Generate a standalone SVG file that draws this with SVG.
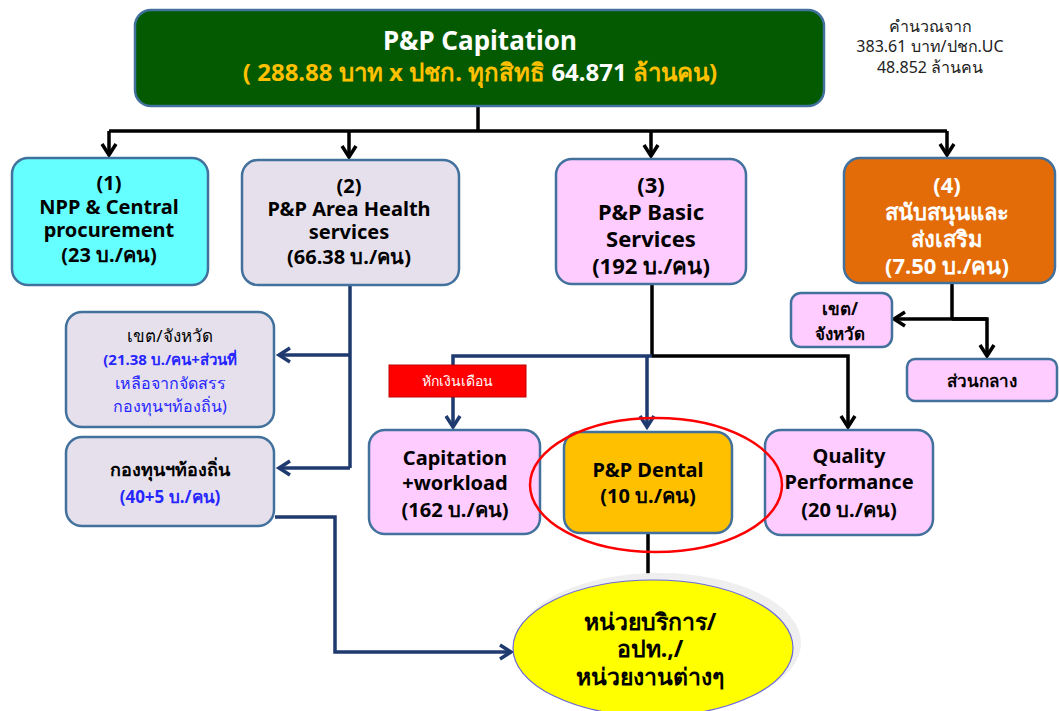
<svg xmlns="http://www.w3.org/2000/svg" width="1059" height="711" viewBox="0 0 1059 711">
<defs>
<style>
text{font-family:"Noto Sans","DejaVu Sans",sans-serif;text-anchor:middle}
.b{font-weight:bold}
.box{stroke:#41719c;stroke-width:2.5}
.k{stroke:#000;stroke-width:3.5;fill:none}
.n{stroke:#1f3a6e;stroke-width:3.5;fill:none}
.t22{font-size:20px;font-weight:bold;fill:#000}
.blue{fill:#2626ff}
</style>
<marker id="ak" markerUnits="userSpaceOnUse" markerWidth="18" markerHeight="18" refX="13" refY="8" orient="auto" overflow="visible">
<path d="M2,1 L13,8 L2,15" fill="none" stroke="#000" stroke-width="3.5"/>
</marker>
<marker id="an" markerUnits="userSpaceOnUse" markerWidth="18" markerHeight="18" refX="13" refY="8" orient="auto" overflow="visible">
<path d="M2,1 L13,8 L2,15" fill="none" stroke="#1f3a6e" stroke-width="3.5"/>
</marker>
</defs>
<rect width="1059" height="711" fill="#fff"/>

<g id="connectors">
<polyline class="k" points="478,106 478,131"/>
<polyline class="k" points="109,131 947,131"/>
<line class="k" x1="109" y1="131" x2="109" y2="155" marker-end="url(#ak)"/>
<line class="k" x1="349" y1="131" x2="349" y2="157" marker-end="url(#ak)"/>
<line class="k" x1="651" y1="131" x2="651" y2="156" marker-end="url(#ak)"/>
<line class="k" x1="947" y1="131" x2="947" y2="155" marker-end="url(#ak)"/>
<polyline class="n" points="350,285 350,468"/>
<line class="n" x1="350" y1="355" x2="279" y2="355" marker-end="url(#an)"/>
<line class="n" x1="350" y1="468" x2="279" y2="468" marker-end="url(#an)"/>
<polyline class="n" points="275,517 335,517 335,652 511,652" marker-end="url(#an)"/>
<polyline class="k" points="652,284 652,356"/>
<polyline class="k" points="652,356 848,356 848,427" marker-end="url(#ak)"/>
<polyline class="n" points="652,356 453,356 453,427" marker-end="url(#an)"/>
<line class="n" x1="647" y1="356" x2="647" y2="427" marker-end="url(#an)"/>
<polyline class="k" points="952,283 952,319"/>
<line class="k" x1="987" y1="319" x2="894" y2="319" marker-end="url(#ak)"/>
<polyline class="k" points="952,319 987,319 987,356" marker-end="url(#ak)"/>
<line class="k" x1="648" y1="533" x2="648" y2="583"/>
</g>

<g id="top">
<rect x="135" y="10" width="689" height="96" rx="16" fill="#035a00" class="box"/>
<text x="480" y="50" class="b" font-size="26" fill="#fff">P&amp;P Capitation</text>
<text x="480" y="81" class="b" font-size="24" fill="#ffc000">( 288.88 บาท x ปชก. ทุกสิทธิ <tspan fill="#fff">64.871</tspan> ล้านคน)</text>
</g>

<g id="note">
<text x="930" y="32" font-size="16" fill="#222">คำนวณจาก</text>
<text x="930" y="52" font-size="16" fill="#222">383.61 บาท/ปชก.UC</text>
<text x="930" y="73" font-size="16" fill="#222">48.852 ล้านคน</text>
</g>

<g id="n1">
<rect x="12" y="158" width="196" height="127" rx="16" fill="#66ffff" class="box"/>
<text x="109" y="190" class="t22">(1)</text>
<text x="109" y="214" class="t22">NPP &amp; Central</text>
<text x="109" y="237" class="t22">procurement</text>
<text x="109" y="262" class="t22">(23 บ./คน)</text>
</g>

<g id="n2">
<rect x="242" y="160" width="217" height="125" rx="16" fill="#e6e0ec" class="box"/>
<text x="349" y="193" class="t22">(2)</text>
<text x="349" y="216" class="t22">P&amp;P Area Health</text>
<text x="349" y="239" class="t22">services</text>
<text x="349" y="264" class="t22">(66.38 บ./คน)</text>
</g>

<g id="n3">
<rect x="556" y="159" width="190" height="125" rx="16" fill="#ffccff" class="box"/>
<text x="651" y="193" class="b" font-size="22">(3)</text>
<text x="651" y="220" class="b" font-size="22">P&amp;P Basic</text>
<text x="651" y="247" class="b" font-size="22">Services</text>
<text x="651" y="274" class="b" font-size="22">(192 บ./คน)</text>
</g>

<g id="n4">
<rect x="844" y="158" width="211" height="125" rx="16" fill="#e36c09" class="box"/>
<text x="947" y="193" class="b" font-size="22" fill="#fff">(4)</text>
<text x="947" y="220" class="b" font-size="22" fill="#fff">สนับสนุนและ</text>
<text x="947" y="247" class="b" font-size="22" fill="#fff">ส่งเสริม</text>
<text x="947" y="274" class="b" font-size="22" fill="#fff">(7.50 บ./คน)</text>
</g>

<g id="n-khet">
<rect x="66" y="312" width="208" height="115" rx="16" fill="#e6e0ec" class="box"/>
<text x="170" y="342" font-size="17" fill="#000">เขต/จังหวัด</text>
<text x="170" y="365" class="b blue" font-size="15">(21.38 บ./คน+ส่วนที่</text>
<text x="170" y="389" class="blue" font-size="16">เหลือจากจัดสรร</text>
<text x="170" y="412" class="blue" font-size="16">กองทุนฯท้องถิ่น)</text>
</g>

<g id="n-fund">
<rect x="66" y="437" width="208" height="89" rx="16" fill="#e6e0ec" class="box"/>
<text x="170" y="476" class="b" font-size="18" fill="#000">กองทุนฯท้องถิ่น</text>
<text x="170" y="503" class="b blue" font-size="17">(40+5 บ./คน)</text>
</g>

<g id="n-deduct">
<rect x="389" y="365" width="137" height="32" fill="#ff0000" stroke="#c00000" stroke-width="1"/>
<text x="457" y="386" font-size="14" fill="#fff">หักเงินเดือน</text>
</g>

<g id="n-cap">
<rect x="369" y="430" width="171" height="104" rx="16" fill="#ffccff" class="box"/>
<text x="455" y="465" class="t22">Capitation</text>
<text x="455" y="490" class="t22">+workload</text>
<text x="455" y="517" class="t22">(162 บ./คน)</text>
</g>

<g id="n-dental">
<rect x="564" y="432" width="168" height="101" rx="16" fill="#ffc000" class="box"/>
<text x="648" y="477" class="t22">P&amp;P Dental</text>
<text x="648" y="503" class="t22">(10 บ./คน)</text>
</g>

<g id="n-quality">
<rect x="765" y="430" width="168" height="105" rx="16" fill="#ffccff" class="box"/>
<text x="849" y="463" class="t22">Quality</text>
<text x="849" y="489" class="t22">Performance</text>
<text x="849" y="517" class="t22">(20 บ./คน)</text>
</g>

<g id="n-khet4">
<rect x="791" y="293" width="101" height="54" rx="10" fill="#ffccff" class="box"/>
<text x="840" y="315" class="b" font-size="17">เขต/</text>
<text x="840" y="340" class="b" font-size="17">จังหวัด</text>
</g>

<g id="n-central">
<rect x="907" y="359" width="150" height="42" rx="8" fill="#ffccff" class="box"/>
<text x="982" y="387" class="b" font-size="17">ส่วนกลาง</text>
</g>

<g id="highlight">
<ellipse cx="656" cy="485" rx="126" ry="67" fill="none" stroke="#ff0000" stroke-width="2.5"/>
</g>

<g id="n-units">
<ellipse cx="659" cy="643" rx="142" ry="70" fill="#efefef"/>
<ellipse cx="653" cy="648" rx="140" ry="68" fill="#ffff00" stroke="#6b6bd6" stroke-width="1.2"/>
<text x="650" y="630" class="b" font-size="23">หน่วยบริการ/</text>
<text x="650" y="657" class="b" font-size="23">อปท.,/</text>
<text x="650" y="685" class="b" font-size="23">หน่วยงานต่างๆ</text>
</g>
</svg>
